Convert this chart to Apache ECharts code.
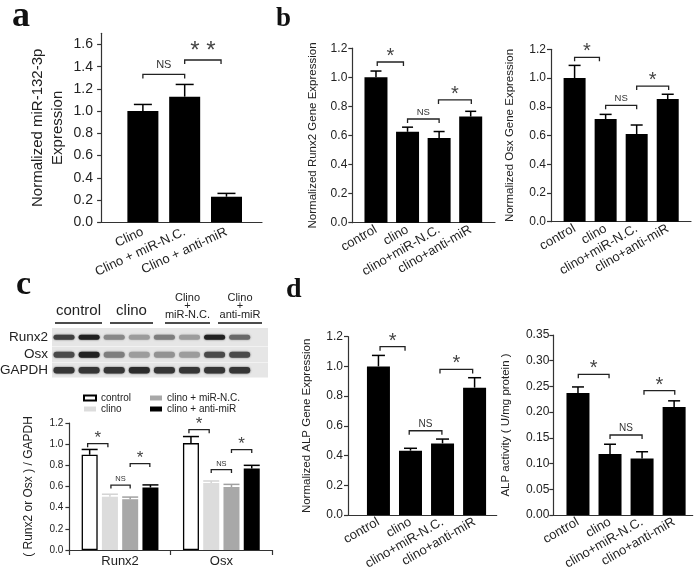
<!DOCTYPE html>
<html><head><meta charset="utf-8">
<script src="https://cdn.jsdelivr.net/npm/echarts@6/dist/echarts.min.js"></script>
<style>html,body{margin:0;padding:0;background:#fff}#c{width:700px;height:573px}</style>
</head><body><div id="c"></div>
<script>
// ---------- Panel a ----------
const catsA = ['Clino', 'Clino + miR-N.C.', 'Clino + anti-miR'];
const valsA = [1.0, 1.13, 0.23];
const errA = [0.06, 0.11, 0.03];
const sigA = [[1, 2, 1.33, 'NS'], [2, 2.87, 1.46, '* *']];
const ticksA = [0, 0.2, 0.4, 0.6, 0.8, 1.0, 1.2, 1.4, 1.6];

// ---------- Panel b ----------
const catsB = ['control', 'clino', 'clino+miR-N.C.', 'clino+anti-miR'];
const runx2B = [1.0, 0.625, 0.583, 0.73];
const runx2ErrB = [0.043, 0.032, 0.044, 0.036];
const sigRunx2B = [[1.04, 1.87, 1.105, '*'], [2, 3, 0.713, 'NS'], [2.98, 4.02, 0.844, '*']];
const osxB = [1.0, 0.715, 0.61, 0.854];
const osxErrB = [0.088, 0.032, 0.063, 0.033];
const sigOsxB = [[1.0, 1.8, 1.144, '*'], [2, 3, 0.81, 'NS'], [3, 4.03, 0.944, '*']];
const ticksB = [0, 0.2, 0.4, 0.6, 0.8, 1.0, 1.2];

// ---------- Panel c ----------
const groupsC = ['Runx2', 'Osx'];
const seriesNamesC = ['control', 'clino', 'clino + miR-N.C.', 'clino + anti-miR'];
const runx2C = [0.9, 0.502, 0.48, 0.59];
const runx2ErrC = [0.05, 0.025, 0.02, 0.025];
const osxC = [1.01, 0.634, 0.595, 0.77];
const osxErrC = [0.062, 0.018, 0.025, 0.03];
const sigC = [[0.9, 1.9, 1.005, '*'], [2.05, 3, 0.613, 'NS'], [3, 3.97, 0.817, '*'],
              [5.9, 6.9, 1.137, '*'], [7, 8, 0.76, 'NS'], [8, 9, 0.949, '*']];
const ticksC = [0, 0.2, 0.4, 0.6, 0.8, 1.0, 1.2];
const laneGroups = ['control', 'clino', 'Clino\n+\nmiR-N.C.', 'Clino\n+\nanti-miR'];
const blotRows = ['Runx2', 'Osx', 'GAPDH'];
const bandRunx2 = [0.8, 0.95, 0.45, 0.35, 0.5, 0.35, 0.95, 0.6];
const bandOsx = [0.75, 0.95, 0.5, 0.35, 0.4, 0.35, 0.75, 0.75];
const bandGapdh = [0.85, 0.85, 0.85, 0.9, 0.85, 0.85, 0.85, 0.85];

// ---------- Panel d ----------
const alpD = [1.0, 0.433, 0.482, 0.857];
const alpErrD = [0.074, 0.016, 0.029, 0.067];
const sigAlpD = [[1.05, 1.83, 1.133, '*'], [1.96, 2.98, 0.567, 'NS'], [2.92, 3.94, 0.98, '*']];
const actD = [0.237, 0.1186, 0.110, 0.21];
const actErrD = [0.012, 0.019, 0.013, 0.012];
const sigActD = [[1.01, 1.97, 0.2735, '*'], [2, 3, 0.1556, 'NS'], [3.06, 4.02, 0.2417, '*']];
const ticksD1 = [0, 0.2, 0.4, 0.6, 0.8, 1.0, 1.2];
const ticksD2 = [0, 0.05, 0.10, 0.15, 0.20, 0.25, 0.30, 0.35];

const FONT = '"Liberation Sans", Arial, sans-serif';
const SERIF = '"Liberation Serif", "Times New Roman", serif';
const TXT = '#222';
const AX = '#333';

const grids = [], xAxes = [], yAxes = [], series = [];

function errRender(cap, colors) {
  return function (params, api) {
    const x = api.value(0), v = api.value(1), e = api.value(2);
    const p0 = api.coord([x, v]), p1 = api.coord([x, v + e]);
    const c = colors[params.dataIndex % colors.length];
    return { type: 'group', children: [
      { type: 'line', shape: { x1: p0[0], y1: p0[1], x2: p1[0], y2: p1[1] }, style: { stroke: c, lineWidth: 1.5 } },
      { type: 'line', shape: { x1: p1[0] - cap, y1: p1[1], x2: p1[0] + cap, y2: p1[1] }, style: { stroke: c, lineWidth: 1.5 } }
    ]};
  };
}
function sigRender(sig, o) {
  return function (params, api) {
    const s = sig[params.dataIndex];
    const a = api.coord([s[0], s[2]]), b = api.coord([s[1], s[2]]);
    const star = s[3].indexOf('*') >= 0;
    return { type: 'group', children: [
      { type: 'polyline', shape: { points: [[a[0], a[1] + o.tick], [a[0], a[1]], [b[0], b[1]], [b[0], b[1] + o.tick]] },
        style: { stroke: '#222', lineWidth: 1.3, fill: null } },
      { type: 'text', x: (a[0] + b[0]) / 2, y: star ? a[1] - o.starOff : a[1] - o.nsOff,
        style: { text: s[3], fontSize: star ? o.starSize : o.nsSize, fill: star ? '#444' : '#333', align: 'center',
                 verticalAlign: star ? 'middle' : 'bottom', fontFamily: FONT } }
    ]};
  };
}

function addPanel(o) {
  const gi = grids.length;
  grids.push({ left: o.left, top: o.top, width: o.width, height: o.height });
  xAxes.push({
    gridIndex: gi, type: 'value', min: o.xmin, max: o.xmax,
    axisLine: { show: true, onZero: false, lineStyle: { color: AX, width: 1.2 } },
    axisTick: o.xTickVals ? { show: true, customValues: o.xTickVals, length: 5, lineStyle: { color: AX, width: 1.2 } } : { show: false },
    axisLabel: { customValues: o.xLabelVals, formatter: function (v) { const i = o.xLabelVals.indexOf(v); return i >= 0 ? o.xNames[i] : ''; },
      rotate: o.rotate, fontSize: o.xFont, color: TXT, fontFamily: FONT, margin: o.xMargin, hideOverlap: false },
    splitLine: { show: false }
  });
  yAxes.push({
    gridIndex: gi, type: 'value', min: 0, max: o.ymax,
    axisLine: { show: true, lineStyle: { color: AX, width: 1.2 } },
    axisTick: { show: true, customValues: o.yTicks, length: 4, lineStyle: { color: AX, width: 1.2 } },
    axisLabel: { customValues: o.yTicks, formatter: function (v) { return v.toFixed(o.dec); },
      fontSize: o.yFont, color: TXT, fontFamily: FONT, margin: o.yMargin },
    splitLine: { show: false },
    name: o.yName, nameLocation: 'middle', nameGap: o.nameGap,
    nameTextStyle: { fontSize: o.nameFont, color: TXT, fontFamily: FONT, lineHeight: o.nameLH || o.nameFont * 1.2 }
  });
  (o.bars || []).forEach(function (b) {
    series.push({ type: 'bar', name: b.name, xAxisIndex: gi, yAxisIndex: gi, data: b.data, barWidth: o.barWidth,
      barGap: '-100%', itemStyle: b.style, silent: true, z: 2 });
  });
  series.push({ type: 'custom', xAxisIndex: gi, yAxisIndex: gi, data: o.err, renderItem: errRender(o.cap, o.errColors),
    z: 3, silent: true, encode: { x: 0, y: 1 } });
  series.push({ type: 'custom', xAxisIndex: gi, yAxisIndex: gi, data: o.sig.map(s => [s[0], s[2]]), renderItem: sigRender(o.sig, o),
    z: 4, silent: true, encode: { x: 0, y: 1 } });
}

const BLACK = { color: '#000' };
const idx = v => v.map((_, i) => i + 1);

// Panel a
addPanel({ left: 99, top: 33.3, width: 163, height: 189, xmin: -0.05, xmax: 3.85, ymax: 1.7,
  xLabelVals: idx(catsA), xNames: catsA, rotate: 25, xFont: 13, xMargin: 9,
  yTicks: ticksA, dec: 1, yFont: 14, yMargin: 6,
  yName: 'Normalized miR-132-3p\nExpression', nameGap: 31, nameFont: 15, nameLH: 20,
  barWidth: 31, bars: [{ name: 'a', data: valsA.map((v, i) => [i + 1, v]), style: BLACK }],
  err: valsA.map((v, i) => [i + 1, v, errA[i]]), cap: 9, errColors: ['#000'],
  sig: sigA, tick: 4, starOff: 9, starSize: 24, nsOff: 4, nsSize: 11 });

// Panel b - Runx2
addPanel({ left: 352.3, top: 48.2, width: 142.7, height: 174.5, xmin: 0.25, xmax: 4.77, ymax: 1.2,
  xLabelVals: idx(catsB), xNames: catsB, rotate: 30, xFont: 13, xMargin: 6,
  yTicks: ticksB, dec: 1, yFont: 12, yMargin: 5,
  yName: 'Normalized Runx2 Gene Expression', nameGap: 33, nameFont: 11.5,
  barWidth: 23, bars: [{ name: 'b1', data: runx2B.map((v, i) => [i + 1, v]), style: BLACK }],
  err: runx2B.map((v, i) => [i + 1, v, runx2ErrB[i]]), cap: 5.5, errColors: ['#000'],
  sig: sigRunx2B, tick: 4, starOff: 5.5, starSize: 20, nsOff: 2, nsSize: 9.5 });

// Panel b - Osx
addPanel({ left: 551, top: 49.3, width: 140, height: 172.4, xmin: 0.24, xmax: 4.75, ymax: 1.2,
  xLabelVals: idx(catsB), xNames: catsB, rotate: 30, xFont: 13, xMargin: 6,
  yTicks: ticksB, dec: 1, yFont: 12, yMargin: 5,
  yName: 'Normalized Osx Gene Expression', nameGap: 34, nameFont: 11.5,
  barWidth: 22, bars: [{ name: 'b2', data: osxB.map((v, i) => [i + 1, v]), style: BLACK }],
  err: osxB.map((v, i) => [i + 1, v, osxErrB[i]]), cap: 6, errColors: ['#000'],
  sig: sigOsxB, tick: 4, starOff: 5.5, starSize: 20, nsOff: 2, nsSize: 9.5 });

// Panel c
const colorsC = [{ color: '#fff', borderColor: '#000', borderWidth: 1.3 }, { color: '#dcdcdc' }, { color: '#a8a8a8' }, { color: '#000' }];
const errColorsC = ['#000', '#d4d4d4', '#a0a0a0', '#000'];
const errC = [];
seriesNamesC.forEach(function (n, k) {
  errC.push([k + 1, runx2C[k], runx2ErrC[k]]);
  errC.push([k + 6, osxC[k], osxErrC[k]]);
});
addPanel({ left: 69.4, top: 423, width: 202.6, height: 127, xmin: 0, xmax: 10, ymax: 1.2,
  xTickVals: [0, 5, 10], xLabelVals: [2.5, 7.5], xNames: groupsC, rotate: 0, xFont: 13, xMargin: 5,
  yTicks: ticksC, dec: 1, yFont: 10, yMargin: 6,
  yName: '( Runx2 or Osx ) / GAPDH', nameGap: 34, nameFont: 12,
  barWidth: 16, bars: seriesNamesC.map((n, k) => ({ name: n, data: [[k + 1, runx2C[k]], [k + 6, osxC[k]]], style: colorsC[k] })),
  err: errC, cap: 8, errColors: errColorsC.flatMap(c => [c, c]),
  sig: sigC, tick: 3.5, starOff: 5, starSize: 17, nsOff: 2, nsSize: 7.5 });

// Panel d - ALP gene
addPanel({ left: 348, top: 336.7, width: 148.7, height: 178.3, xmin: 0.05, xmax: 4.69, ymax: 1.2,
  xLabelVals: idx(catsB), xNames: catsB, rotate: 30, xFont: 13, xMargin: 6,
  yTicks: ticksD1, dec: 1, yFont: 12, yMargin: 5,
  yName: 'Normalized ALP Gene Expression', nameGap: 34, nameFont: 11.5,
  barWidth: 23, bars: [{ name: 'd1', data: alpD.map((v, i) => [i + 1, v]), style: BLACK }],
  err: alpD.map((v, i) => [i + 1, v, alpErrD[i]]), cap: 6.5, errColors: ['#000'],
  sig: sigAlpD, tick: 4, starOff: 5.5, starSize: 20, nsOff: 2, nsSize: 10 });

// Panel d - ALP activity
addPanel({ left: 553.3, top: 335, width: 139.4, height: 180, xmin: 0.23, xmax: 4.58, ymax: 0.35,
  xLabelVals: idx(catsB), xNames: catsB, rotate: 30, xFont: 13, xMargin: 6,
  yTicks: ticksD2, dec: 2, yFont: 12, yMargin: 4,
  yName: 'ALP activity ( U/mg protein )', nameGap: 41, nameFont: 11.5,
  barWidth: 23, bars: [{ name: 'd2', data: actD.map((v, i) => [i + 1, v]), style: BLACK }],
  err: actD.map((v, i) => [i + 1, v, actErrD[i]]), cap: 6, errColors: ['#000'],
  sig: sigActD, tick: 4, starOff: 5.5, starSize: 20, nsOff: 2, nsSize: 10 });

// ---------- Graphic: panel letters + western blot ----------
const graphic = [];
[['a', 12, 35, 36], ['b', 276, 33, 27], ['c', 16, 302, 34], ['d', 286, 304, 28]].forEach(function (L) {
  graphic.push({ type: 'text', left: L[1], top: L[2] - L[3], style: { text: L[0], font: 'bold ' + L[3] + 'px ' + SERIF, fill: '#111' } });
});
const blotX = 52, blotW = 216, rowTops = [328, 347, 363], rowH = [18.5, 15.5, 14.5];
const laneX0 = 64, laneDX = 25.1;
const headCenters = [78.5, 131.5, 187.5, 240], headHalf = [23.5, 21.5, 22.5, 22];
rowTops.forEach(function (t, r) {
  graphic.push({ type: 'rect', shape: { x: blotX, y: t, width: blotW, height: rowH[r] }, style: { fill: '#e6e6e6' } });
  graphic.push({ type: 'text', style: { text: blotRows[r], x: 48, y: t + rowH[r] / 2, align: 'right', verticalAlign: 'middle',
    font: '13.5px ' + FONT, fill: TXT } });
});
[bandRunx2, bandOsx, bandGapdh].forEach(function (row, r) {
  const cy = rowTops[r] + rowH[r] / 2;
  const h = [5, 6, 6.5][r];
  row.forEach(function (v, i) {
    const g = Math.round(228 - v * 205);
    graphic.push({ type: 'rect', shape: { x: laneX0 + i * laneDX - 10.5, y: cy - h / 2, width: 21, height: h, r: h / 2 },
      style: { fill: 'rgb(' + g + ',' + g + ',' + g + ')', shadowBlur: 2, shadowColor: 'rgba(' + g + ',' + g + ',' + g + ',0.8)' } });
  });
});
laneGroups.forEach(function (t, i) {
  const multi = t.indexOf('\n') >= 0;
  graphic.push({ type: 'text', style: { text: t, x: headCenters[i], y: 319, align: 'center', verticalAlign: 'bottom',
    font: (multi ? '11px ' : '15px ') + FONT, fill: TXT, lineHeight: multi ? 8.5 : 16 } });
  graphic.push({ type: 'line', shape: { x1: headCenters[i] - headHalf[i], y1: 323, x2: headCenters[i] + headHalf[i], y2: 323 },
    style: { stroke: '#111', lineWidth: 1.3 } });
});

const legendBase = { orient: 'vertical', itemWidth: 12, itemHeight: 5, itemGap: 1, selectedMode: false, padding: 0,
  textStyle: { fontSize: 10, color: TXT, fontFamily: FONT, lineHeight: 10 }, icon: 'rect' };

const chart = echarts.init(document.getElementById('c'), null, { renderer: 'canvas' });
chart.setOption({
  animation: false,
  backgroundColor: '#fff',
  textStyle: { fontFamily: FONT },
  grid: grids, xAxis: xAxes, yAxis: yAxes, series: series,
  legend: [
    Object.assign({}, legendBase, { data: ['control', 'clino'], left: 83, top: 393 }),
    Object.assign({}, legendBase, { data: ['clino + miR-N.C.', 'clino + anti-miR'], left: 150, top: 393 })
  ],
  graphic: graphic
});
</script></body></html>
